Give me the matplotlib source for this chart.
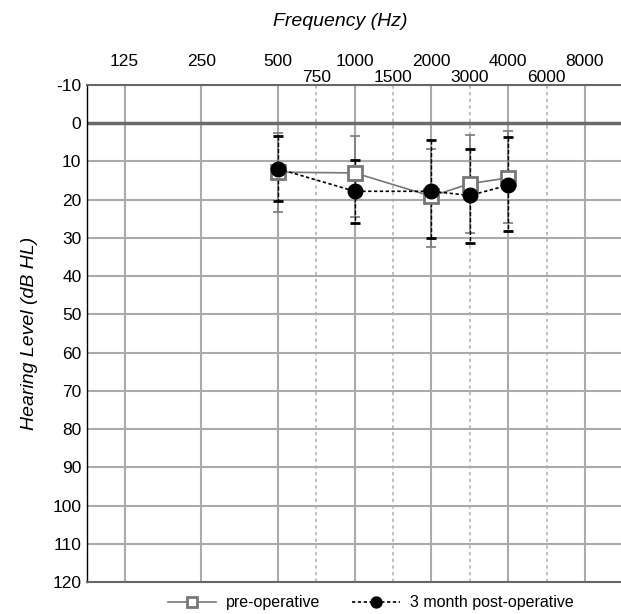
import matplotlib
matplotlib.use("Agg")
import matplotlib.pyplot as plt
import matplotlib.transforms as mtransforms
import numpy as np

plt.rcParams['font.family'] = ['Liberation Sans', 'DejaVu Sans']

# Data
freqs = [500, 1000, 2000, 3000, 4000]
pre_mean = [12.8, 13.0, 19.1, 15.8, 14.3]
pre_low = [2.5, 3.3, 6.7, 3.2, 2.0]
pre_high = [23.1, 24.4, 32.5, 28.6, 26.0]
post_mean = [11.9, 17.8, 17.8, 18.9, 16.2]
post_low = [3.4, 9.7, 4.4, 6.8, 3.6]
post_high = [20.4, 26.1, 30.1, 31.4, 28.3]

octave_freqs = [125, 250, 500, 1000, 2000, 4000, 8000]
half_freqs = [750, 1500, 3000, 6000]
y_ticks = list(range(-10, 121, 10))

# audiogram scale: octaves equally spaced, half-octave frequencies at midpoints
_scale_f = np.array([125, 250, 500, 750, 1000, 1500, 2000, 3000, 4000, 6000, 8000], dtype=float)
_scale_p = np.array([0, 1, 2, 2.5, 3, 3.5, 4, 4.5, 5, 5.5, 6], dtype=float)


def forward(f):
    f = np.asarray(f, dtype=float)
    fc = np.clip(f, 1e-6, None)
    p = np.interp(fc, _scale_f, _scale_p)
    p = np.where(fc < 125, np.log2(fc / 125.0), p)
    p = np.where(fc > 8000, 6 + np.log2(fc / 8000.0), p)
    return p


def inverse(p):
    p = np.asarray(p, dtype=float)
    f = np.interp(p, _scale_p, _scale_f)
    f = np.where(p < 0, 125.0 * 2 ** p, f)
    f = np.where(p > 6, 8000.0 * 2 ** (p - 6), f)
    return f


fig = plt.figure(figsize=(6.21, 6.14), dpi=100)
ax = fig.add_axes([87/621, 1-582/614, 1-87/621, (582-85)/614])
ax.set_xscale('function', functions=(forward, inverse))
ax.set_xlim(inverse(-0.49), inverse(6.47))
ax.set_ylim(120, -10)

# grid
for f in octave_freqs:
    ax.axvline(f, color='#aaaaaa', lw=1.5, zorder=1)
for f in half_freqs:
    ax.axvline(f, color='#b5b5b5', lw=1.2, ls=(0, (2, 2)), zorder=1)
for y in y_ticks:
    if y == 0:
        ax.axhline(y, color='#6a6a6a', lw=2.5, zorder=1.5)
    elif y in (-10, 120):
        pass
    else:
        ax.axhline(y, color='#aaaaaa', lw=1.5, zorder=1)

ax.spines['right'].set_visible(False)
ax.spines['left'].set_color('black')
ax.spines['left'].set_linewidth(1.0)
ax.spines['top'].set_color('#666666')
ax.spines['top'].set_linewidth(1.5)
ax.spines['bottom'].set_color('#666666')
ax.spines['bottom'].set_linewidth(1.5)

ax.set_xticks([])
ax.set_xticks([], minor=True)
ax.set_yticks(y_ticks)
ax.set_yticklabels([str(v) for v in y_ticks], fontsize=12.5)
ax.tick_params(axis='y', length=0, pad=4)

# top labels
trans = mtransforms.blended_transform_factory(ax.transData, fig.transFigure)
for f in octave_freqs:
    ax.text(f, 1-61/614, str(f), transform=trans, ha='center', va='center', fontsize=12.5)
for f in half_freqs:
    ax.text(f, 1-77/614, str(f), transform=trans, ha='center', va='center', fontsize=12.5)

fig.text(340/621, 1-22/614, 'Frequency (Hz)', ha='center', va='center', fontsize=14, style='italic')
fig.text(30/621, 1-333/614, 'Hearing Level (dB HL)', ha='center', va='center', fontsize=14,
         style='italic', rotation=90)

pre_err = [np.array(pre_mean) - np.array(pre_low), np.array(pre_high) - np.array(pre_mean)]
post_err = [np.array(post_mean) - np.array(post_low), np.array(post_high) - np.array(post_mean)]

eb1 = ax.errorbar(freqs, pre_mean, yerr=pre_err, fmt='none', ecolor='#7a7a7a', elinewidth=1.2,
                  capsize=3.5, capthick=1.2, zorder=3)
eb2 = ax.errorbar(freqs, post_mean, yerr=post_err, fmt='none', ecolor='black', elinewidth=1.0,
                  capsize=3.5, capthick=2.0, zorder=3.5)
eb2[2][0].set_linestyle((0, (3, 1.5)))

l1, = ax.plot(freqs, pre_mean, color='#777777', lw=1.2, marker='s', markersize=10,
              markerfacecolor='white', markeredgecolor='#777777', markeredgewidth=2, zorder=4,
              label='pre-operative')
l2, = ax.plot(freqs, post_mean, color='black', lw=1.2, ls=(0, (2, 1.5)), marker='o', markersize=10.5,
              markerfacecolor='black', markeredgecolor='black', zorder=5,
              label='3 month post-operative')

leg = fig.legend(handles=[l1, l2], loc='center', bbox_to_anchor=(371/621, 1-603/614), ncol=2,
                 frameon=False, fontsize=11.5, handlelength=3.0, handletextpad=0.6,
                 columnspacing=2.0, markerscale=0.75)

fig.savefig('out.png', dpi=100)
